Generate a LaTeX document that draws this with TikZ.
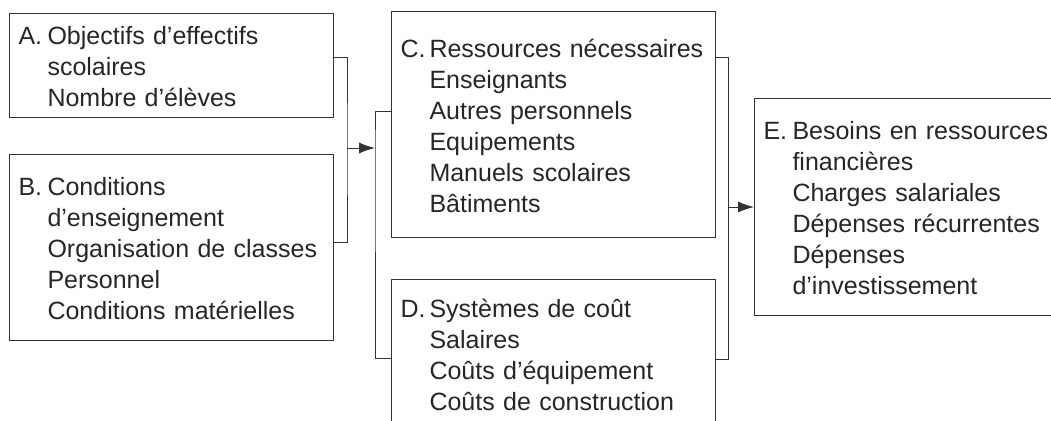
\documentclass[tikz,border=0pt]{standalone}
\usepackage{fontspec}
\setmainfont{Liberation Sans}
\usetikzlibrary{positioning,arrows.meta}

\newcommand{\boxtext}[2]{\raisebox{-4pt}[\height][\depth]{\begin{tabular}{@{}p{29pt}@{}l@{}}#1 & #2\end{tabular}}}

\tikzset{
	box/.style={draw=black!80, line width=1pt, text=black!85, anchor=north west,
		inner xsep=9pt, inner ysep=0pt, text width=306pt, align=left,
		font=\fontsize{25}{31}\selectfont},
	link/.style={draw=black!80, line width=0.9pt},
	flow/.style={link, -{Latex[length=16pt,width=11pt]}}
}

\begin{document}
\begin{tikzpicture}[x=1pt, y=1pt]
		\useasboundingbox (0,0) rectangle (1051,-420);
		\clip (0,0) rectangle (1051,-420);
	
		\node[box, minimum height=104pt] (A) at (9,-13) {\boxtext{A.}{Objectifs d’effectifs\\ & scolaires\\ & Nombre d’élèves}};
		\node[box, minimum height=186pt, below=36pt of A] (B) {\boxtext{B.}{Conditions\\ & d’enseignement\\ & Organisation de classes\\ & Personnel\\ & Conditions matérielles}};
	
		\node[box, minimum height=226pt] (C) at (391,-11) {\boxtext{C.}{Ressources nécessaires\\ & Enseignants\\ & Autres personnels\\ & Equipements\\ & Manuels scolaires\\ & Bâtiments}};
		\node[box, minimum height=148pt, below=41pt of C] (D) {\boxtext{D.}{Systèmes de coût\\ & Salaires\\ & Coûts d’équipement\\ & Coûts de construction}};
	
		\node[box, minimum height=217pt, text width=292pt] (E) at (754,-98) {\boxtext{E.}{Besoins en ressources\\ & financières\\ & Charges salariales\\ & Dépenses récurrentes\\ & Dépenses\\ & d’investissement}};
	
		\coordinate (m1) at (347,-148);
		\coordinate (m2) at (375,-148);
		\coordinate (m3) at (728,-207);
	
		\draw[link] ([yshift=8pt]A.east) -| (m1) |- ([yshift=5pt]B.east);
		\draw[flow] (m1) -- (m2);
		\draw[link] ([yshift=13pt]C.west) -| (m2) |- ([yshift=-5pt]D.west);
		\draw[link] ([yshift=67pt]C.east) -| (m3) |- ([yshift=-6pt]D.east);
		\draw[flow] (m3) -- (E.west);
	\end{tikzpicture}
\end{document}
